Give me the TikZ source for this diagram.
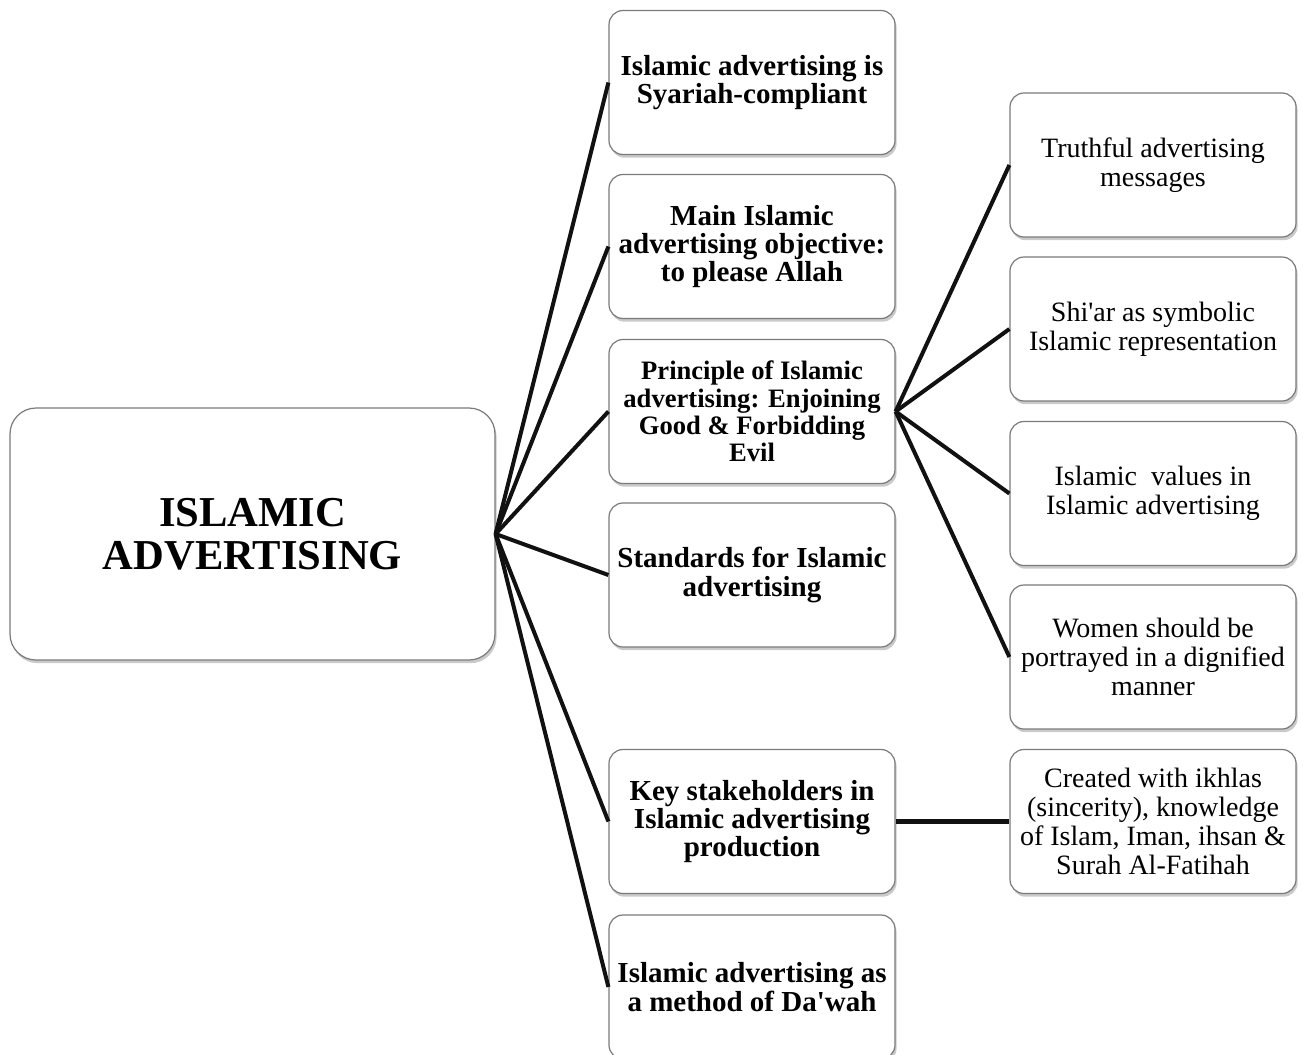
\documentclass[tikz,border=0pt]{standalone}
\usepackage{fontspec}
\setmainfont{Liberation Serif}
\usetikzlibrary{shadows}
\definecolor{frame}{HTML}{7A7A7A}
\definecolor{link}{HTML}{111111}

\begin{document}
\begin{tikzpicture}[x=0.5pt, y=-0.5pt,
  card/.style={draw=frame, line width=0.6pt, fill=white, rounded corners=7pt, align=center,
    minimum width=143pt, minimum height=72pt, inner sep=1pt, font=\fontsize{14}{14.5}\selectfont,
    drop shadow={shadow xshift=0.8pt, shadow yshift=-1.6pt, opacity=0.35, fill=black!60}},
  head/.style={card, font=\bfseries\fontsize{14.5}{14.2}\selectfont},
  hub/.style={card, minimum width=242.5pt, minimum height=126pt, rounded corners=13pt,
    font=\bfseries\fontsize{21.3}{21.5}\selectfont},
  wire/.style={draw=link, line width=2pt}]
\useasboundingbox (0,0) rectangle (1303,1055);
\node[hub] (root) at (252.5,534) {ISLAMIC\\ADVERTISING};
\node[head] (syariah) at (752,82.5) {Islamic advertising is\\Syariah-compliant};
\node[head] (objective) at (752,246.5) {Main Islamic\\advertising objective:\\to please Allah};
\node[head, font=\bfseries\fontsize{13.3}{13.7}\selectfont] (principle) at (752,411.5)
  {Principle of Islamic\\advertising: Enjoining\\Good \& Forbidding\\Evil};
\node[head] (standards) at (752,575) {Standards for Islamic\\advertising};
\node[head] (stakeholders) at (752,821.5) {Key stakeholders in\\Islamic advertising\\production};
\node[head] (dawah) at (752,987) {Islamic advertising as\\a method of Da\textquotesingle wah};
\node[card] (truthful) at (1153,165) {Truthful advertising\\messages};
\node[card] (shiar) at (1153,329) {Shi\textquotesingle ar as symbolic\\Islamic representation};
\node[card] (values) at (1153,493.5) {Islamic\ \ values in\\Islamic advertising};
\node[card] (women) at (1153,657) {Women should be\\portrayed in a dignified\\manner};
\node[card] (ikhlas) at (1153,821.5) {Created with ikhlas\\(sincerity), knowledge\\of Islam, Iman, ihsan \&\\Surah Al-Fatihah};
\foreach \n in {syariah,objective,principle,standards,stakeholders,dawah}
  \draw[wire] (root.east) -- (\n.west);
\foreach \n in {truthful,shiar,values,women}
  \draw[wire] (principle.east) -- (\n.west);
\draw[wire, line width=2.6pt] (stakeholders.east) -- (ikhlas.west);
\end{tikzpicture}
\end{document}
